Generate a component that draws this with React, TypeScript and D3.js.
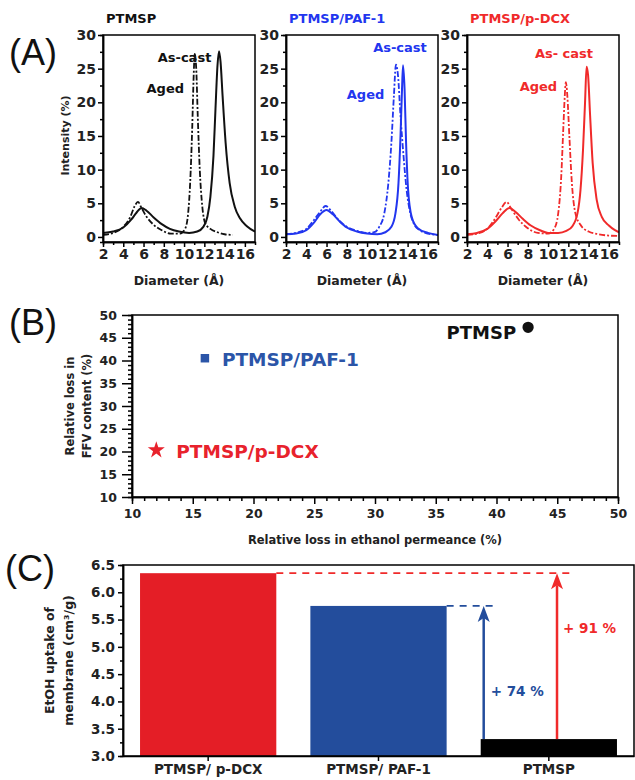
import { useEffect, useRef } from "react";
import * as d3 from "d3";

// ---- data ----
const diamTicks = [2, 4, 6, 8, 10, 12, 14, 16];
const intensityTicks = [0, 5, 10, 15, 20, 25, 30];

const ptmspAsCast: [number, number][] = [
  [2, 0.6], [3, 0.8], [4, 1.4], [4.8, 2.6], [5.3, 3.6], [5.8, 4.3], [6.3, 3.9], [7, 2.9],
  [7.8, 1.9], [8.6, 1.2], [9.5, 0.8], [10.5, 0.6], [11.3, 0.8], [11.9, 1.5], [12.3, 3],
  [12.6, 6], [12.9, 12], [13.1, 19], [13.3, 25.5], [13.45, 27.6], [13.6, 26], [13.8, 21],
  [14.1, 14], [14.5, 8], [15, 4.5], [15.5, 2.8], [16.2, 1.6], [17, 0.8],
];
const ptmspAged: [number, number][] = [
  [2, 0.3], [3, 0.6], [4, 1.5], [4.7, 3], [5.1, 4.5], [5.45, 5.2], [5.8, 4.3], [6.3, 3],
  [7, 1.8], [7.8, 1], [8.7, 0.5], [9.6, 0.5], [10.1, 1.2], [10.4, 3.5], [10.6, 8], [10.8, 16],
  [10.95, 24], [11.05, 27.2], [11.2, 25], [11.35, 18], [11.55, 10], [11.8, 4.5], [12.1, 2],
  [12.6, 1.2], [13.3, 0.7], [14, 0.4], [14.8, 0.3],
];
const pafAsCast: [number, number][] = [
  [2, 0.4], [3, 0.5], [4, 1], [4.8, 2.2], [5.4, 3.4], [6, 4], [6.6, 3.4], [7.3, 2.3], [8, 1.4],
  [9, 0.8], [10, 0.5], [11, 0.4], [11.8, 0.7], [12.4, 1.5], [12.8, 3.5], [13.1, 8], [13.3, 15],
  [13.45, 22], [13.55, 25.5], [13.7, 22], [13.85, 14], [14.05, 7], [14.4, 3], [15, 1.3],
  [16, 0.6], [17, 0.3],
];
const pafAged: [number, number][] = [
  [2, 0.4], [3, 0.6], [4, 1.2], [4.8, 2.6], [5.4, 3.8], [5.9, 4.6], [6.5, 3.8], [7.2, 2.5],
  [8, 1.5], [9, 0.9], [10, 0.6], [10.7, 0.7], [11.2, 1.5], [11.7, 3.5], [12.1, 8], [12.4, 14],
  [12.65, 21], [12.85, 25.6], [13.05, 24], [13.3, 18], [13.6, 12], [13.9, 7], [14.2, 4],
  [14.6, 2], [15.2, 1], [16, 0.5], [17, 0.3],
];
const dcxAsCast: [number, number][] = [
  [2, 0.4], [3, 0.6], [4, 1.2], [4.8, 2.3], [5.5, 3.5], [6.2, 4.3], [6.8, 3.7], [7.5, 2.7],
  [8.3, 1.7], [9.2, 1], [10, 0.6], [11, 0.6], [11.8, 0.9], [12.4, 1.6], [12.9, 3.5], [13.2, 7],
  [13.45, 13], [13.65, 20], [13.8, 25.3], [13.95, 24], [14.15, 18], [14.4, 11], [14.8, 5.5],
  [15.3, 3], [16, 1.7], [16.6, 1], [17, 0.7],
];
const dcxAged: [number, number][] = [
  [2, 0.3], [3, 0.5], [4, 1.2], [4.8, 2.8], [5.4, 4.3], [5.9, 5.2], [6.4, 4.1], [7.1, 2.6],
  [8, 1.3], [9, 0.6], [10, 0.5], [10.6, 1.2], [11, 3.5], [11.3, 9], [11.5, 16], [11.65, 21],
  [11.75, 23], [11.9, 21], [12.1, 15], [12.35, 8], [12.7, 3.5], [13.2, 1.8], [14, 0.8],
  [15, 0.4], [16, 0.2], [17, 0.15],
];

const ffvNames = ["PTMSP", "PTMSP/PAF-1", "PTMSP/p-DCX"];
const permLoss = [42.6, 16, 12];
const ffvLoss = [47.3, 40.5, 20.3];
const lossTicks = [10, 15, 20, 25, 30, 35, 40, 45, 50];

const uptakeNames = ["PTMSP/ p-DCX", "PTMSP/ PAF-1", "PTMSP"];
const uptakeValues = [6.35, 5.75, 3.31];
const uptakeGain = ["+ 91 %", "+ 74 %"];
const uptakeTicks = [3.0, 3.5, 4.0, 4.5, 5.0, 5.5, 6.0, 6.5];

const FONT = "'DejaVu Sans', sans-serif";
const BLUE = "#2236ef";
const RED = "#f02a2a";

type Sel = d3.Selection<any, unknown, null, undefined>;

function styleAxis(g: Sel, size: number) {
  g.attr("font-family", FONT).attr("font-size", size).attr("font-weight", "bold");
  g.select(".domain").attr("stroke", "#000").attr("stroke-width", 1.5);
  g.selectAll(".tick line").attr("stroke", "#000").attr("stroke-width", 1.5);
  g.selectAll(".tick text").attr("fill", "#222");
}

function txt(svg: Sel, x: number, y: number, s: string, size: number, opts: any = {}) {
  return svg
    .append("text")
    .attr("x", x)
    .attr("y", y)
    .attr("font-family", opts.family || FONT)
    .attr("font-size", size)
    .attr("font-weight", opts.weight || "bold")
    .attr("fill", opts.fill || "#222")
    .attr("text-anchor", opts.anchor || "start")
    .attr("dominant-baseline", "central")
    .text(s);
}

function vtxt(svg: Sel, x: number, y: number, s: string, size: number) {
  svg.append("text")
    .attr("transform", `translate(${x},${y}) rotate(-90)`)
    .attr("font-family", FONT).attr("font-size", size).attr("font-weight", "bold").attr("fill", "#222")
    .attr("text-anchor", "middle").attr("dominant-baseline", "central")
    .text(s);
}

const LETTER = { family: "'Liberation Sans', Arial, sans-serif", weight: "normal", anchor: "middle", fill: "#111" };

function drawPanelA(svg: Sel) {
  const top = 35;
  const bottom = 242;
  const w = 152;
  const panels = [
    { title: "PTMSP", color: "#111", left: 103, cast: ptmspAsCast, aged: ptmspAged, castLabel: "As-cast", castAt: [7.4, 26.7], agedAt: [6.3, 22.1] },
    { title: "PTMSP/PAF-1", color: BLUE, left: 286, cast: pafAsCast, aged: pafAged, castLabel: "As-cast", castAt: [10.6, 28.2], agedAt: [8.0, 21.1] },
    { title: "PTMSP/p-DCX", color: RED, left: 467, cast: dcxAsCast, aged: dcxAged, castLabel: "As- cast", castAt: [8.7, 27.3], agedAt: [7.2, 22.3] },
  ];

  panels.forEach((p, i) => {
    const x = d3.scaleLinear().domain([2, 17]).range([p.left, p.left + w]);
    const y = d3.scaleLinear().domain([-0.75, 30]).range([bottom, top]);

    const clipId = `clipA${i}`;
    svg.append("clipPath").attr("id", clipId)
      .append("rect").attr("x", p.left).attr("y", top - 2).attr("width", w).attr("height", bottom - top + 2);

    const line = d3.line<[number, number]>().x((d) => x(d[0])).y((d) => y(d[1])).curve(d3.curveMonotoneX);

    svg.append("path").datum(p.aged).attr("d", line).attr("fill", "none")
      .attr("stroke", p.color).attr("stroke-width", 1.8).attr("stroke-dasharray", "6,2,2,2")
      .attr("clip-path", `url(#${clipId})`);
    svg.append("path").datum(p.cast).attr("d", line).attr("fill", "none")
      .attr("stroke", p.color).attr("stroke-width", 2)
      .attr("clip-path", `url(#${clipId})`);

    // minor ticks
    svg.append("g").attr("transform", `translate(0,${bottom})`)
      .call(d3.axisBottom(x).tickValues(d3.range(3, 17, 2)).tickSize(3).tickFormat(() => ""))
      .call((g: Sel) => styleAxis(g, 12));
    svg.append("g").attr("transform", `translate(${p.left},0)`)
      .call(d3.axisLeft(y).tickValues(d3.range(2.5, 30, 5)).tickSize(3).tickFormat(() => ""))
      .call((g: Sel) => styleAxis(g, 12));

    svg.append("g").attr("transform", `translate(0,${bottom})`)
      .call(d3.axisBottom(x).tickValues(diamTicks).tickSize(5).tickPadding(2).tickSizeOuter(0))
      .call((g: Sel) => styleAxis(g, 14));
    svg.append("g").attr("transform", `translate(${p.left},0)`)
      .call(d3.axisLeft(y).tickValues(intensityTicks).tickSize(5).tickPadding(2).tickSizeOuter(0))
      .call((g: Sel) => styleAxis(g, 14));

    svg.append("rect").attr("x", p.left).attr("y", top).attr("width", w).attr("height", bottom - top)
      .attr("fill", "none").attr("stroke", "#000").attr("stroke-width", 1.5);

    txt(svg, p.left + 3, 18, p.title, 13, { fill: p.color });
    txt(svg, x(p.castAt[0]), y(p.castAt[1]), p.castLabel, 13, { fill: p.color });
    txt(svg, x(p.agedAt[0]), y(p.agedAt[1]), "Aged", 13, { fill: p.color });
    txt(svg, p.left + w / 2, 280, "Diameter (Å)", 12.5, { anchor: "middle" });
  });

  vtxt(svg, 65, (top + bottom) / 2 - 3, "Intensity (%)", 11);

  txt(svg, 33, 52, "(A)", 36, LETTER);
}

function drawPanelB(svg: Sel) {
  const left = 132, right = 618, top = 315, bottom = 497;
  const x = d3.scaleLinear().domain([10, 50]).range([left, right]);
  const y = d3.scaleLinear().domain([10, 50]).range([bottom, top]);
  const minor = d3.range(11, 50, 1).filter((v) => v % 5 !== 0);

  svg.append("g").attr("transform", `translate(0,${bottom})`)
    .call(d3.axisBottom(x).tickValues(minor).tickSize(4).tickFormat(() => ""))
    .call((g: Sel) => styleAxis(g, 12));
  svg.append("g").attr("transform", `translate(${left},0)`)
    .call(d3.axisLeft(y).tickValues(minor).tickSize(4).tickFormat(() => ""))
    .call((g: Sel) => styleAxis(g, 12));
  svg.append("g").attr("transform", `translate(0,${bottom})`)
    .call(d3.axisBottom(x).tickValues(lossTicks).tickSize(7).tickPadding(5).tickSizeOuter(0))
    .call((g: Sel) => styleAxis(g, 12.5));
  svg.append("g").attr("transform", `translate(${left},0)`)
    .call(d3.axisLeft(y).tickValues(lossTicks).tickSize(10).tickPadding(5).tickSizeOuter(0))
    .call((g: Sel) => styleAxis(g, 12.5));

  svg.append("rect").attr("x", left).attr("y", top).attr("width", right - left).attr("height", bottom - top)
    .attr("fill", "none").attr("stroke", "#000").attr("stroke-width", 1.5);

  const colors = ["#111", "#2b55a8", "#e8222c"];
  const shapes = [d3.symbolCircle, d3.symbolSquare, d3.symbolStar];
  const sizes = [100, 72, 90];
  ffvNames.forEach((name, i) => {
    const cx = x(permLoss[i]);
    const cy = y(ffvLoss[i]);
    svg.append("path")
      .attr("d", d3.symbol().type(shapes[i]).size(sizes[i])())
      .attr("transform", `translate(${cx},${cy})`)
      .attr("fill", colors[i]);
    if (i === 0) txt(svg, cx - 12, cy + 5, name, 18, { anchor: "end", fill: colors[i] });
    else txt(svg, cx + (i === 1 ? 17 : 20), cy + 1, name, 18.5, { fill: colors[i] });
  });

  txt(svg, (left + right) / 2, 540, "Relative loss in ethanol permeance (%)", 11.5, { anchor: "middle" });
  vtxt(svg, 70, (top + bottom) / 2, "Relative loss in", 11.5);
  vtxt(svg, 87, (top + bottom) / 2, "FFV content (%)", 11.5);

  txt(svg, 33, 322, "(B)", 36, LETTER);
}

function drawPanelC(svg: Sel) {
  const left = 123, right = 634, top = 565, bottom = 756;
  const x = d3.scaleBand<string>().domain(uptakeNames).range([left, right]).paddingInner(0.2).paddingOuter(0.1);
  const y = d3.scaleLinear().domain([3.0, 6.5]).range([bottom, top]);
  const colors = ["#e41e26", "#234d9c", "#000"];

  svg.selectAll(".barC").data(uptakeNames).enter().append("rect")
    .attr("x", (d) => x(d) as number)
    .attr("y", (d, i) => y(uptakeValues[i]))
    .attr("width", x.bandwidth())
    .attr("height", (d, i) => y(3.0) - y(uptakeValues[i]))
    .attr("fill", (d, i) => colors[i]);

  const ref = x(uptakeNames[2]) as number;
  const blueX = ref + 3;
  const redX = ref + x.bandwidth() * 0.56;
  const baseY = y(uptakeValues[2]);

  // dashed guide lines
  svg.append("line").attr("x1", (x(uptakeNames[0]) as number) + x.bandwidth()).attr("x2", redX + 13)
    .attr("y1", y(uptakeValues[0])).attr("y2", y(uptakeValues[0]))
    .attr("stroke", RED).attr("stroke-width", 1.8).attr("stroke-dasharray", "7,6");
  svg.append("line").attr("x1", (x(uptakeNames[1]) as number) + x.bandwidth()).attr("x2", blueX + 14)
    .attr("y1", y(uptakeValues[1])).attr("y2", y(uptakeValues[1]))
    .attr("stroke", "#234d9c").attr("stroke-width", 1.8).attr("stroke-dasharray", "7,6");

  const arrow = (ax: number, tipY: number, color: string) => {
    svg.append("line").attr("x1", ax).attr("x2", ax).attr("y1", baseY).attr("y2", tipY + 12)
      .attr("stroke", color).attr("stroke-width", 2.5);
    svg.append("path")
      .attr("d", `M${ax},${tipY} L${ax - 6},${tipY + 16} L${ax},${tipY + 12} L${ax + 6},${tipY + 16} Z`)
      .attr("fill", color);
  };
  arrow(redX, y(uptakeValues[0]), RED);
  arrow(blueX, y(uptakeValues[1]), "#234d9c");

  txt(svg, redX + 6, y(5.35), uptakeGain[0], 13.5, { fill: RED });
  txt(svg, blueX + 7, y(4.2), uptakeGain[1], 13.5, { fill: "#234d9c" });

  svg.append("g").attr("transform", `translate(${left},0)`)
    .call(d3.axisLeft(y).tickValues(d3.range(3.25, 6.5, 0.5)).tickSize(3).tickFormat(() => ""))
    .call((g: Sel) => styleAxis(g, 12));
  svg.append("g").attr("transform", `translate(${left},0)`)
    .call(d3.axisLeft(y).tickValues(uptakeTicks).tickSize(5).tickPadding(3).tickSizeOuter(0).tickFormat(d3.format(".1f")))
    .call((g: Sel) => styleAxis(g, 13.5));
  svg.append("g").attr("transform", `translate(0,${bottom})`)
    .call(d3.axisBottom(x).tickSize(5).tickPadding(3).tickSizeOuter(0))
    .call((g: Sel) => styleAxis(g, 13.5));

  svg.append("rect").attr("x", left).attr("y", top).attr("width", right - left).attr("height", bottom - top)
    .attr("fill", "none").attr("stroke", "#000").attr("stroke-width", 1.5);

  vtxt(svg, 49, (top + bottom) / 2, "EtOH uptake of", 12.5);
  vtxt(svg, 68, (top + bottom) / 2, "membrane (cm³/g)", 12.5);

  txt(svg, 30, 568, "(C)", 36, LETTER);
}

export default function App() {
  const svgRef = useRef<SVGSVGElement>(null);

  useEffect(() => {
    const svg = d3.select(svgRef.current) as unknown as Sel;
    svg.selectAll("*").remove();
    svg.append("rect").attr("width", 635).attr("height", 780).attr("fill", "#fff");
    drawPanelA(svg);
    drawPanelB(svg);
    drawPanelC(svg);
  }, []);

  return (
    <svg
      ref={svgRef}
      width={635}
      height={780}
      style={{ position: "absolute", left: 0, top: 0, display: "block" }}
    ></svg>
  );
}
